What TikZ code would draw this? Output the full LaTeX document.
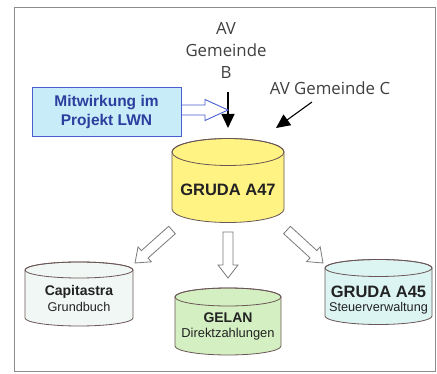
\documentclass[tikz,border=0pt]{standalone}
\usepackage{fontspec}
\setmainfont{Liberation Sans}
\newfontfamily\avfont{Open Sans}
\usetikzlibrary{calc,arrows.meta}
\definecolor{frameC}{HTML}{8C8C8C}
\definecolor{cylline}{HTML}{6A5656}
\definecolor{yel}{HTML}{FFF384}
\definecolor{capi}{HTML}{F1F7F5}
\definecolor{gelan}{HTML}{D4F0C2}
\definecolor{gruda45}{HTML}{DCF5F3}
\definecolor{boxfill}{HTML}{C8ECF8}
\definecolor{boxline}{HTML}{4A5ED0}
\definecolor{boxtext}{HTML}{2A3F9E}
\definecolor{lbltext}{HTML}{222222}
\definecolor{avtext}{HTML}{404040}
\definecolor{hollowline}{HTML}{7A7A7A}
\tikzset{
  cyl/.style={draw=cylline, line width=0.8pt},
  lbl/.style={text=lbltext, inner sep=0pt, align=center},
  avlbl/.style={text=avtext, inner sep=0pt, align=center, font=\avfont\fontsize{16.8}{22}\selectfont},
  hollowgray/.style={draw=hollowline, fill=white, line width=0.8pt, line join=miter},
  hollowblue/.style={draw=boxline, fill=white, line width=0.9pt, line join=miter},
  blackarrow/.style={draw=black, line width=1.1pt, -{Triangle[length=14pt,width=13pt]}},
  bluebox/.style={draw=boxline, fill=boxfill, line width=1pt, minimum width=149pt, minimum height=49pt, inner sep=0pt, align=center, text=boxtext, font=\bfseries\fontsize{15.5}{19.5}\selectfont},
}
% #1 style, #2 from, #3 to, #4 shaft half width, #5 head half width, #6 head length
\newcommand\hollowarrow[6]{%
  \draw[#1] let \p1=(#2), \p2=(#3), \n1={atan2(\y2-\y1,\x2-\x1)},
    \n2={veclen(\x2-\x1,\y2-\y1)-#6} in
    ($(\p1)+({\n1+90}:#4)$) -- ++(\n1:\n2) -- ++({\n1+90}:{#5-#4}) -- (\p2)
    -- ($(\p1)+(\n1:\n2)+({\n1-90}:#5)$) -- ++({\n1+90}:{#5-#4})
    -- ($(\p1)+({\n1-90}:#4)$) -- cycle;}
% #1 name, #2 cx, #3 top y, #4 bottom y, #5 rx, #6 ry, #7 fill
\newcommand\dbcyl[7]{%
  \coordinate (#1) at (#2,{(#3+#4)/2});
  \filldraw[cyl, fill=#7] ({#2-#5},#3) -- ({#2-#5},#4)
    arc[start angle=180, end angle=360, x radius=#5, y radius=#6]
    -- ({#2+#5},#3)
    arc[start angle=0, end angle=180, x radius=#5, y radius=#6] -- cycle;
  \draw[cyl] (#2,#3) ellipse[x radius=#5, y radius=#6];}
\begin{document}
\begin{tikzpicture}[x=1pt,y=1pt]
\useasboundingbox (0,0) rectangle (437,373);
\fill[white] (0,0) rectangle (437,373);
\draw[frameC, line width=0.9pt] (14,2) rectangle (435,366);

% top labels
\node[avlbl] (avb) at (226,323) {AV\\Gemeinde\\B};
\node[avlbl] (avc) at (330,285) {AV Gemeinde C};

% black arrows
\coordinate (bstart) at (228,281);
\coordinate (bend) at (228,245);
\coordinate (cstart) at (312,271);
\coordinate (cend) at (276,245);
\draw[blackarrow] (bstart) -- (bend);
\draw[blackarrow] (cstart) -- (cend);

% blue box with hollow double arrow
\coordinate (mstart) at (178,263);
\coordinate (mend) at (228,263);
\hollowarrow{hollowblue}{mstart}{mend}{5pt}{10.5pt}{23pt}
\node[bluebox] (mitwirkung) at (106.5,261) {Mitwirkung im\\Projekt LWN};

% databases
\dbcyl{a47}{228}{221}{164}{56}{13.5}{yel}
\node[lbl, font=\bfseries\fontsize{16.5}{20}\selectfont] (gruda47) at (228,183) {GRUDA A47};

\dbcyl{capi}{79}{103}{55}{54}{8}{capi}
\node[lbl, font=\bfseries\fontsize{14}{16}\selectfont] (capitastra) at (79,81) {Capitastra};
\node[lbl, font=\fontsize{12.7}{15}\selectfont] (grundbuch) at (79,66) {Grundbuch};

\dbcyl{gel}{228}{76}{27}{53}{9}{gelan}
\node[lbl, font=\bfseries\fontsize{14}{16}\selectfont] (gelanlbl) at (228,55) {GELAN};
\node[lbl, font=\fontsize{12.9}{15}\selectfont] (direkt) at (228,39) {Direktzahlungen};

\dbcyl{g45}{378.5}{105}{57}{53.5}{8.5}{gruda45}
\node[lbl, font=\bfseries\fontsize{16.5}{20}\selectfont] (gruda45lbl) at (378.5,81) {GRUDA A45};
\node[lbl, font=\fontsize{12.7}{15}\selectfont] (steuer) at (378.5,65) {Steuerverwaltung};

% hollow gray arrows
\coordinate (l1) at (172,143);
\coordinate (l2) at (135,110);
\coordinate (m1) at (228,141);
\coordinate (m2) at (228,95);
\coordinate (r1) at (287,143);
\coordinate (r2) at (323,110);
\hollowarrow{hollowgray}{l1}{l2}{5pt}{10pt}{13pt}
\hollowarrow{hollowgray}{m1}{m2}{5pt}{10pt}{13pt}
\hollowarrow{hollowgray}{r1}{r2}{5pt}{10pt}{13pt}
\end{tikzpicture}
\end{document}
